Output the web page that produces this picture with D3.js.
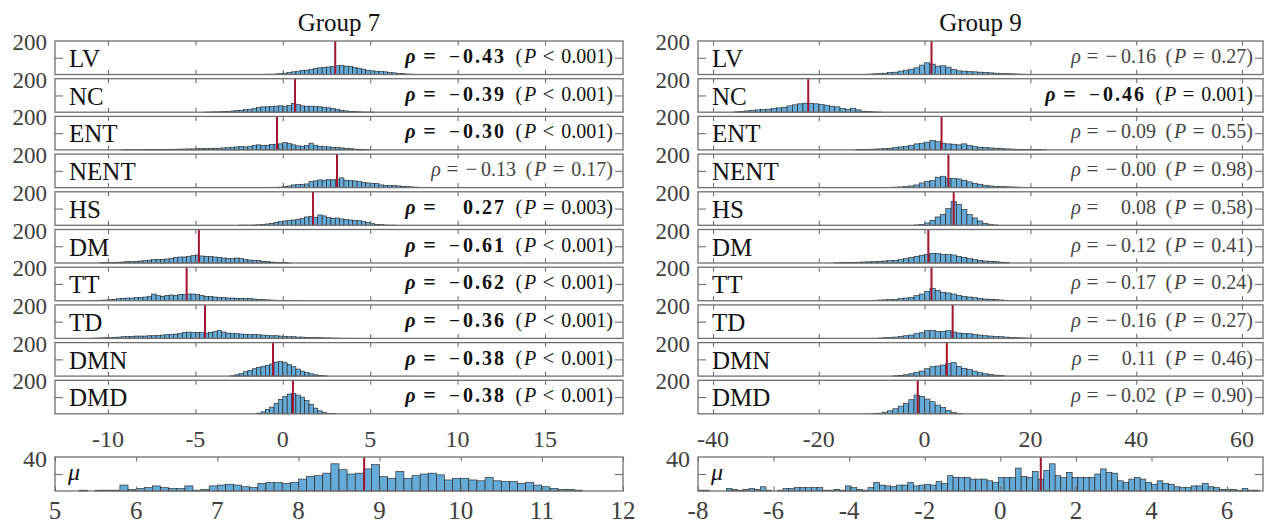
<!DOCTYPE html>
<html>
<head>
<meta charset="utf-8">
<script src="https://cdn.jsdelivr.net/npm/d3@7"></script>
<style>
body { margin: 0; background: #fff; }
svg { display: block; }
text { font-family: "Liberation Serif", "Times New Roman", serif; }
</style>
</head>
<body>
<svg id="chart" width="1264" height="525"></svg>
<script>
// ---- data ----
var rowNames = ["LV", "NC", "ENT", "NENT", "HS", "DM", "TT", "TD", "DMN", "DMD"];

// group 7: bins of 0.25, first bin left edge per row
var g7Bin = 0.25;
var g7Start = [-1.5, -4.5, -9.5, -1.5, -2.5, -10.5, -11, -11, -3, -1.5];
var g7Counts = [
  [1,1,2,2, 3,5,8,12, 16,20,24,26, 30,36,40,42, 45,48,52,54, 50,48,42,36, 32,26,22,20, 18,16,12,10, 7,5,3,2, 1,1],
  [1,1,2,2, 3,5,7,10, 12,15,18,22, 28,32,32,34, 36,38,36,40, 52,46,38,36, 36,34,32,30, 26,22,18,12, 8,5,3,2, 1,1,1],
  [0,1,1,1, 1,1,2,2, 2,3,3,3, 4,4,5,5, 6,6,7,8, 8,9,10,10, 12,14,16,18, 20,18,22,28, 30,26,28,32, 34,36,44,38, 30,24,22,26, 40,28,22,20, 18,16,14,12, 10,8,5,3, 2,1],
  [1,1,1,2, 2,3,6,10, 16,18,20,22, 36,40,46,44, 48,46,50,58, 44,42,40,36, 30,28,26,24, 16,14,13,12, 10,8,6,4, 3,2,2,1, 1,1,1,1],
  [1,1,1,2, 3,5,8,12, 18,22,26,30, 32,36,40,50, 54,48,62,56, 46,42,44,38, 34,32,30,28, 22,16,10,6, 4,2,1,1],
  [1,2,3,4, 5,6,8,8, 10,12,14,16, 20,22,22,24, 28,32,36,36, 38,44,48,42, 40,38,36,34, 30,28,26,30, 26,22,18,16, 14,10,8,6, 4,3,2,1],
  [1,2,3,4, 6,8,12,14, 16,16,18,20, 22,24,40,30, 26,32,34,30, 36,38,40,40, 36,32,26,26, 22,20,18,16, 16,14,14,12, 14,10,8,6, 5,4,3,2, 1,1,1,1],
  [1,2,3,4, 5,6,8,10, 12,12,14,14, 14,16,16,18, 20,22,24,26, 30,36,38,34, 36,34,32,36, 40,46,38,32, 30,28,26,24, 22,24,22,20, 18,16,16,14, 12,10,10,8, 8,6,6,5, 4,3,3,2, 2,1,1,1],
  [2,8,16,26, 34,44,52,58, 64,72,84,86, 80,70,56,42, 30,22,14,8, 4,2],
  [4,12,26,40, 62,86,104,118, 120,112,100,80, 56,34,18,8, 3,1]
];
var g7Median = [3.0, 0.7, -0.33, 3.1, 1.73, -4.8, -5.5, -4.45, -0.56, 0.58];
var g7Rho = ["-0.43", "-0.39", "-0.30", "-0.13", "0.27", "-0.61", "-0.62", "-0.36", "-0.38", "-0.38"];
var g7P = ["< 0.001", "< 0.001", "< 0.001", "= 0.17", "= 0.003", "< 0.001", "< 0.001", "< 0.001", "< 0.001", "< 0.001"];
var g7Ticks = [-10, -5, 0, 5, 10, 15];

// group 9: bins of 1
var g9Bin = 1;
var g9Start = [-11, -36, -13, -8, -2, -17, -10, -9, -6, -10];
var g9Counts = [
  [2,4,6,8,12,14,20,26,32,40,56,70,62,50,52,44,30,22,20,18,16,14,12,10,8,6,5,4,3,2,1],
  [2,4,8,12,14,16,18,22,26,30,38,44,50,54,52,50,46,42,36,32,22,18,24,14,6,3,2,1],
  [2,3,4,5,6,8,10,14,18,22,28,36,40,46,56,50,40,36,34,30,36,26,20,16,14,12,10,8,6,5,4,3,3,2,2,1],
  [1,2,3,4,6,10,16,28,36,42,62,68,56,54,52,44,34,26,20,14,10,8,6,5,4,3,2,1],
  [2,6,14,30,50,64,100,142,124,94,64,44,26,12,4,2],
  [1,2,3,4,5,6,7,8,10,12,14,16,20,26,34,40,46,52,58,56,52,50,48,40,34,26,20,16,12,10,8,5,3],
  [2,4,5,6,8,12,16,20,30,40,56,74,62,50,46,40,32,26,22,18,14,10,8,6,4,2],
  [2,4,6,8,12,16,20,28,34,46,48,40,42,46,38,32,30,28,24,20,16,14,12,10,8,6,4,3,2],
  [2,4,8,14,22,30,44,56,60,66,74,80,58,46,40,30,20,14,10,6,3],
  [2,4,10,18,30,46,62,84,112,104,88,72,52,38,20,8,2]
];
var g9Median = [1.3, -22, 3.2, 4.5, 5.5, 0.7, 1.3, 5.3, 4.2, -1.3];
var g9Rho = ["-0.16", "-0.46", "-0.09", "-0.00", "0.08", "-0.12", "-0.17", "-0.16", "0.11", "-0.02"];
var g9P = ["= 0.27", "= 0.001", "= 0.55", "= 0.98", "= 0.58", "= 0.41", "= 0.24", "= 0.27", "= 0.46", "= 0.90"];
var g9Ticks = [-40, -20, 0, 20, 40, 60];

// mu histograms
var mu7Bin = 0.1, mu7Start = 5.2;
var mu7Counts = [0,1,0,1,1,1,7,2,3,4,6,4,3,3,6,1,2,6,7,8,7,5,4,9,10,10,9,10,14,17,18,21,32,25,20,21,26,31,17,15,23,15,18,20,21,19,13,15,15,13,12,16,12,11,11,9,10,7,5,3,2,2,1];
var mu7Median = 8.81;
var mu7Ticks = [5, 6, 7, 8, 9, 10, 11, 12];

var mu9Bin = 0.15, mu9Start = -8;
var mu9Counts = [1,1,0,0,0,3,2,1,2,3,2,5,1,0,1,3,3,4,4,4,4,4,1,1,2,1,6,4,2,1,4,10,7,6,5,7,7,10,6,7,8,7,11,9,
  18,16,16,16,14,14,14,12,10,16,16,16,27,17,16,23,14,24,32,18,16,22,16,16,16,16,20,26,22,21,12,10,14,16,14,10,8,12,9,8,5,4,4,6,6,9,5,4,2,2,2,1,3,1,1];
var mu9Median = 1.07;
var mu9Ticks = [-8, -6, -4, -2, 0, 2, 4, 6];

// ---- layout ----
var svg = d3.select("#chart");
var rowTop0 = 41, rowPitch = 37.7, rowH = 33.5;
var muTop = 457, muH = 34;
var frameCol = "#707070", barFill = "#66aad7", redCol = "#a2142f";

var panels = [
  {x0: 55, x1: 623, dom: [-13.03, 19.46], title: "Group 7", bin: g7Bin, start: g7Start, counts: g7Counts,
   med: g7Median, rho: g7Rho, p: g7P, ticks: g7Ticks,
   muDom: [5, 12], muBin: mu7Bin, muStart: mu7Start, muCounts: mu7Counts, muMed: mu7Median, muTicks: mu7Ticks},
  {x0: 698, x1: 1263, dom: [-42.84, 63.97], title: "Group 9", bin: g9Bin, start: g9Start, counts: g9Counts,
   med: g9Median, rho: g9Rho, p: g9P, ticks: g9Ticks,
   muDom: [-8, 6.95], muBin: mu9Bin, muStart: mu9Start, muCounts: mu9Counts, muMed: mu9Median, muTicks: mu9Ticks}
];

function drawHist(g, x, y, h, start, bin, counts) {
  var bins = counts.map(function(c, i) { return {a: start + i * bin, b: start + (i + 1) * bin, n: c}; })
                   .filter(function(d) { return d.n > 0; });
  g.selectAll("rect.bar").data(bins).enter().append("rect")
    .attr("class", "bar")
    .attr("x", function(d) { return x(d.a); })
    .attr("width", function(d) { return x(d.b) - x(d.a); })
    .attr("y", function(d) { return y(d.n); })
    .attr("height", function(d) { return h - y(d.n); })
    .attr("fill", barFill)
    .attr("stroke", "#1c1c1c")
    .attr("stroke-width", 0.6);
}

function drawFrame(g, x, y, h, x0, x1, ticks, midTick) {
  g.append("rect").attr("x", x0).attr("y", 0).attr("width", x1 - x0).attr("height", h)
    .attr("fill", "none").attr("stroke", frameCol).attr("stroke-width", 1.3);
  function clean(s) { s.select(".domain").remove(); s.attr("color", frameCol); s.selectAll("line").attr("stroke-width", 1.1); }
  g.append("g").attr("transform", "translate(0," + h + ")")
    .call(d3.axisBottom(x).tickValues(ticks).tickSize(-4.5).tickFormat("")).call(clean);
  g.append("g")
    .call(d3.axisTop(x).tickValues(ticks).tickSize(-4.5).tickFormat("")).call(clean);
  g.append("g").attr("transform", "translate(" + x0 + ",0)")
    .call(d3.axisLeft(y).tickValues([midTick]).tickSize(-8).tickFormat("")).call(clean);
  g.append("g").attr("transform", "translate(" + x1 + ",0)")
    .call(d3.axisRight(y).tickValues([midTick]).tickSize(-8).tickFormat("")).call(clean);
}

function isSig(p) {
  return p.charAt(0) === "<" || parseFloat(p.slice(2)) < 0.05;
}

// rho = value (P rel p) laid out right to left from R
function rhoLabel(g, R, base, rho, p) {
  var sig = isSig(p);
  var col = sig ? "#111" : "#444";
  var fw = sig ? "bold" : "normal";
  var neg = rho.charAt(0) === "-";
  var digits = neg ? rho.slice(1) : rho;
  var rel = p.charAt(0), pv = p.slice(2);
  var fs = 20;

  var tp = g.append("text").attr("x", R).attr("y", base).attr("text-anchor", "end")
    .attr("font-size", fs).attr("fill", col).text(pv + ")");
  var relC = R - tp.node().getComputedTextLength() - 13;
  g.append("text").attr("x", relC).attr("y", base).attr("text-anchor", "middle")
    .attr("font-family", "DejaVu Sans").attr("font-size", 21).attr("fill", col).text(rel);
  var tP = g.append("text").attr("x", relC - 12).attr("y", base).attr("text-anchor", "end")
    .attr("font-size", fs).attr("fill", col);
  tP.append("tspan").text("(");
  tP.append("tspan").attr("font-style", "italic").attr("dx", 2).text("P");
  var dEnd = relC - 12 - tP.node().getComputedTextLength() - 2 - 9.5;
  var td = g.append("text").attr("x", dEnd).attr("y", base).attr("text-anchor", "end")
    .attr("font-size", fs).attr("font-weight", fw).attr("fill", col)
    .attr("letter-spacing", sig ? 2 : 0).text(digits);
  var dStart = dEnd - td.node().getComputedTextLength();
  var minusC = dStart - (sig ? 8.5 : 9.5);
  g.append("text").attr("x", minusC).attr("y", base).attr("text-anchor", "middle")
    .attr("font-family", "DejaVu Sans").attr("font-size", sig ? 19 : 21).attr("font-weight", fw)
    .attr("fill", col).attr("fill-opacity", neg ? 1 : 0).text("\u2212");
  var eqC = minusC - (sig ? 25 : 19);
  g.append("text").attr("x", eqC).attr("y", base).attr("text-anchor", "middle")
    .attr("font-family", "DejaVu Sans").attr("font-size", sig ? 22 : 21).attr("font-weight", fw)
    .attr("fill", col).text("=");
  g.append("text").attr("x", eqC - (sig ? 14 : 11.5)).attr("y", base).attr("text-anchor", "end")
    .attr("font-size", fs).attr("font-weight", fw).attr("font-style", "italic")
    .attr("fill", col).text("\u03c1");
}

panels.forEach(function(P) {
  var x = d3.scaleLinear().domain(P.dom).range([P.x0, P.x1]);
  var y = d3.scaleLinear().domain([0, 200]).range([rowH, 0]);

  svg.append("text").attr("x", (P.x0 + P.x1) / 2).attr("y", 31)
    .attr("text-anchor", "middle").attr("font-size", 25).attr("fill", "#111").text(P.title);

  rowNames.forEach(function(name, i) {
    var g = svg.append("g").attr("transform", "translate(0," + (rowTop0 + i * rowPitch) + ")");
    drawHist(g, x, y, rowH, P.start[i], P.bin, P.counts[i]);
    g.append("line").attr("x1", x(P.med[i])).attr("x2", x(P.med[i]))
      .attr("y1", 0).attr("y2", rowH).attr("stroke", redCol).attr("stroke-width", 2);
    drawFrame(g, x, y, rowH, P.x0, P.x1, P.ticks, 100);
    g.append("text").attr("x", P.x0 - 8).attr("y", 9).attr("text-anchor", "end")
      .attr("font-size", 23).attr("fill", "#404040").text("200");
    g.append("text").attr("x", P.x0 + 14).attr("y", 26)
      .attr("font-size", 25).attr("fill", "#111").text(name);
    rhoLabel(g, P.x1 - 10, 22, P.rho[i], P.p[i]);
  });

  // x tick labels under the last row
  var lastBottom = rowTop0 + 9 * rowPitch + rowH;
  svg.append("g").selectAll("text").data(P.ticks).enter().append("text")
    .attr("x", function(d) { return x(d); }).attr("y", lastBottom + 33)
    .attr("text-anchor", "middle").attr("font-size", 24).attr("fill", "#404040")
    .text(function(d) { return String(d); });

  // mu panel
  var xm = d3.scaleLinear().domain(P.muDom).range([P.x0, P.x1]);
  var ym = d3.scaleLinear().domain([0, 40]).range([muH, 0]);
  var gm = svg.append("g").attr("transform", "translate(0," + muTop + ")");
  drawHist(gm, xm, ym, muH, P.muStart, P.muBin, P.muCounts);
  gm.append("line").attr("x1", xm(P.muMed)).attr("x2", xm(P.muMed))
    .attr("y1", 0).attr("y2", muH).attr("stroke", redCol).attr("stroke-width", 2);
  drawFrame(gm, xm, ym, muH, P.x0, P.x1, P.muTicks, 20);
  gm.append("text").attr("x", P.x0 - 8).attr("y", 10).attr("text-anchor", "end")
    .attr("font-size", 24).attr("fill", "#404040").text("40");
  gm.append("text").attr("x", P.x0 + 13).attr("y", 23).attr("font-size", 24)
    .attr("font-style", "italic").attr("fill", "#111").text("\u03bc");
  svg.append("g").selectAll("text").data(P.muTicks).enter().append("text")
    .attr("x", function(d) { return xm(d); }).attr("y", 519)
    .attr("text-anchor", "middle").attr("font-size", 25).attr("fill", "#404040")
    .text(function(d) { return String(d); });
});
</script>
</body>
</html>
